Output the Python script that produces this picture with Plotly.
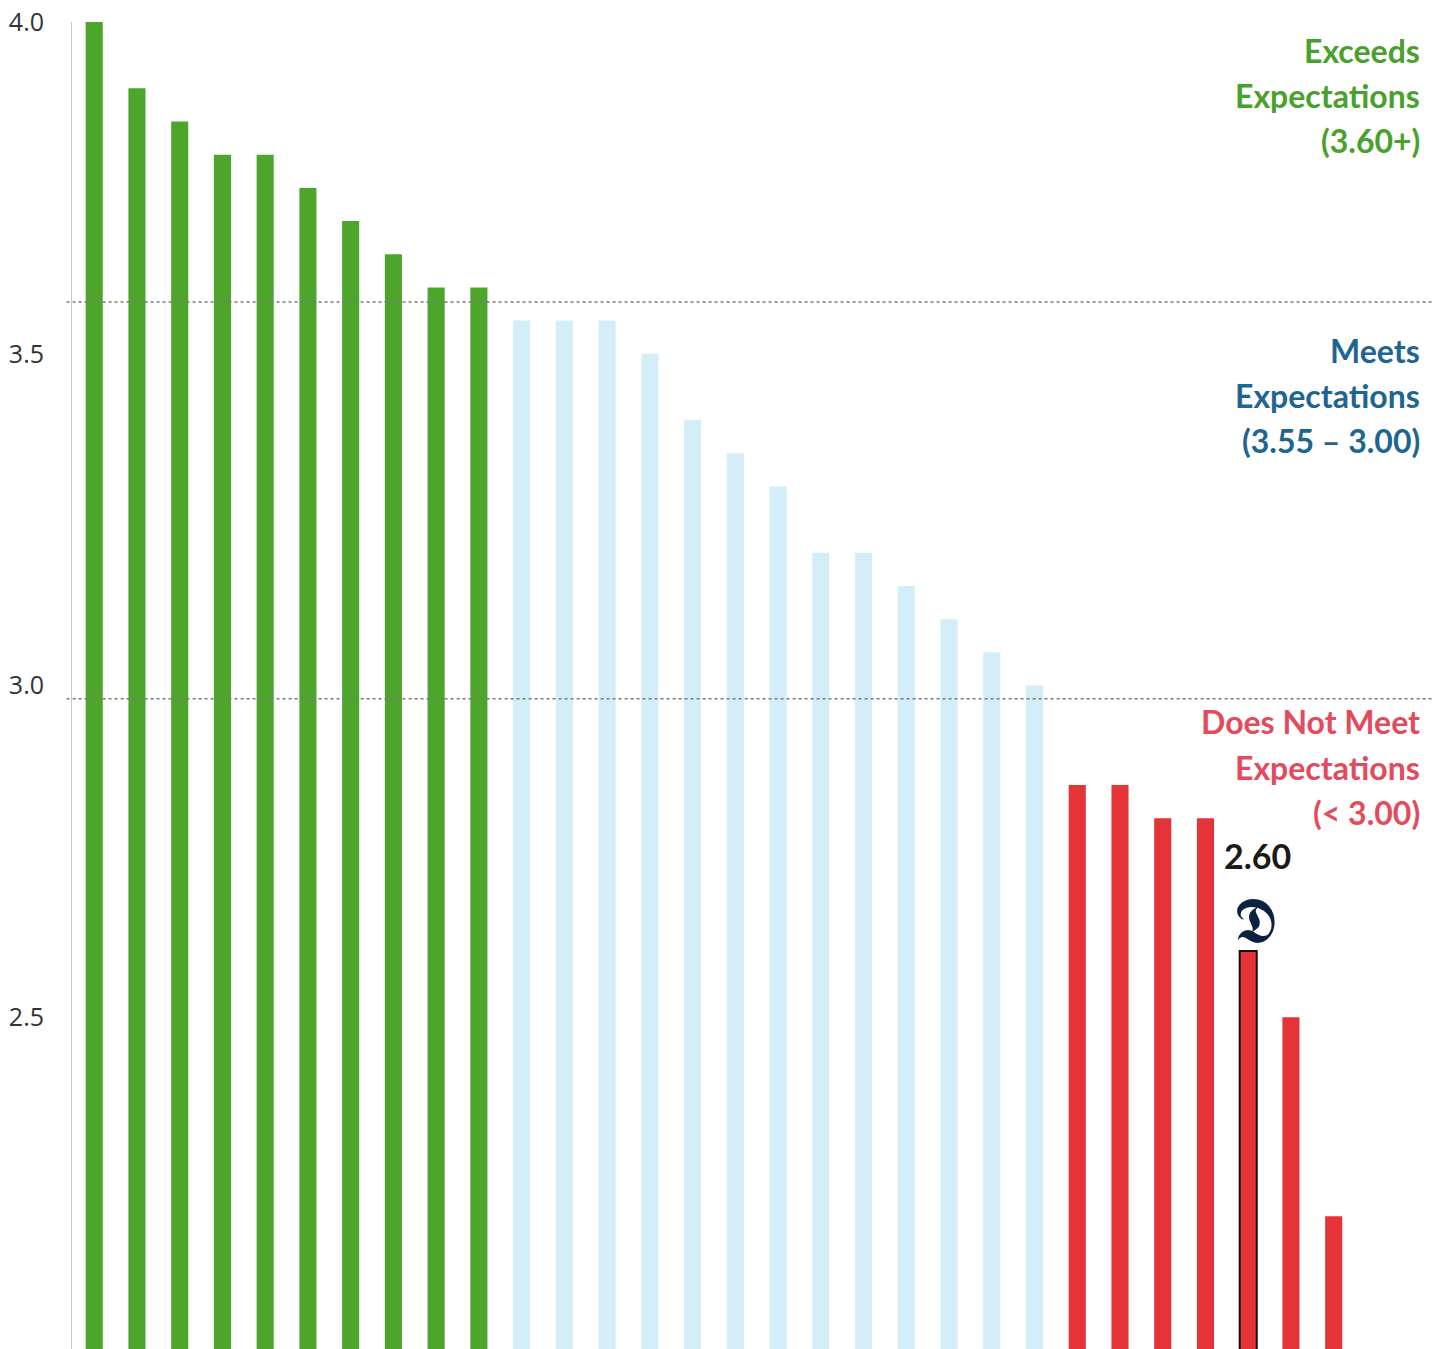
import plotly.graph_objects as go

# ---- data ----
scores = [4.00, 3.90, 3.85, 3.80, 3.80, 3.75, 3.70, 3.65, 3.60, 3.60,
          3.55, 3.55, 3.55, 3.50, 3.40, 3.35, 3.30, 3.20, 3.20, 3.15, 3.10, 3.05, 3.00,
          2.85, 2.85, 2.80, 2.80, 2.60, 2.50, 2.20]
positions = list(range(len(scores)))
detroit_index = 27
detroit_label = "2.60"
tick_vals = [2.5, 3.0, 3.5, 4.0]
tick_text = ["2.5", "3.0", "3.5", "4.0"]
threshold_lines = [3.578, 2.98]

GREEN = "#4ea52c"
BLUE = "#d3edf9"
RED = "#e63338"

def color_for(v):
    if v >= 3.6:
        return GREEN
    if v >= 3.0:
        return BLUE
    return RED

colors = [color_for(v) for v in scores]
line_colors = ["#111111" if i == detroit_index else colors[i] for i in positions]
line_widths = [2 if i == detroit_index else 0 for i in positions]

fig = go.Figure()
fig.add_trace(go.Bar(
    x=positions, y=scores,
    marker=dict(color=colors, line=dict(color=line_colors, width=line_widths)),
    width=0.4,
    hoverinfo="y",
))

for yv in threshold_lines:
    fig.add_shape(type="line", xref="paper", yref="y", x0=-0.004, x1=1.0, y0=yv, y1=yv,
                  line=dict(color="#7a7a7a", width=1.5, dash="dot"), layer="above")

label_groups = [
    (["Exceeds", "Expectations", "(3.60+)"], [50, 95, 140], "#4aa02c"),
    (["Meets", "Expectations", "(3.55 – 3.00)"], [350, 395, 440], "#1f6591"),
    (["Does Not Meet", "Expectations", "(< 3.00)"], [721, 767, 812], "#e34a5c"),
]

def py_to_val(py):
    return 4.0 - (py - 22) / 663.5

for lines, pys, col in label_groups:
    for t, py in zip(lines, pys):
        fig.add_annotation(text=t, xref="paper", x=0.993, xanchor="right",
                           yref="y", y=py_to_val(py), yanchor="middle",
                           showarrow=False,
                           font=dict(family="Lato", size=32, color=col, weight="bold"))

fig.add_annotation(text=detroit_label, x=detroit_index + 0.22, xref="x",
                   y=py_to_val(855), yref="y", showarrow=False, yanchor="middle",
                   font=dict(family="Lato", size=34, color="#1a1a1a", weight="bold"))
fig.add_annotation(text="𝕯", x=detroit_index + 0.15, xref="x",
                   y=py_to_val(920), yref="y", showarrow=False, yanchor="middle",
                   font=dict(family="DejaVu Serif", size=64, color="#0c2340"))

fig.update_layout(
    width=1442, height=1349,
    margin=dict(l=72, r=10, t=22, b=0),
    paper_bgcolor="white", plot_bgcolor="white",
    showlegend=False,
    bargap=0.6,
    xaxis=dict(range=[-0.52, 31.3], showticklabels=False, showgrid=False,
               zeroline=False, showline=False, ticks=""),
    yaxis=dict(range=[2.0, 4.0], tickmode="array", tickvals=tick_vals, ticktext=tick_text,
               showgrid=False, zeroline=False, showline=True, linecolor="#c8c8c8",
               linewidth=1, ticks="", ticklabelstandoff=22,
               tickfont=dict(family="Open Sans", size=25, color="#333333")),
)

fig.write_html("out.html")
